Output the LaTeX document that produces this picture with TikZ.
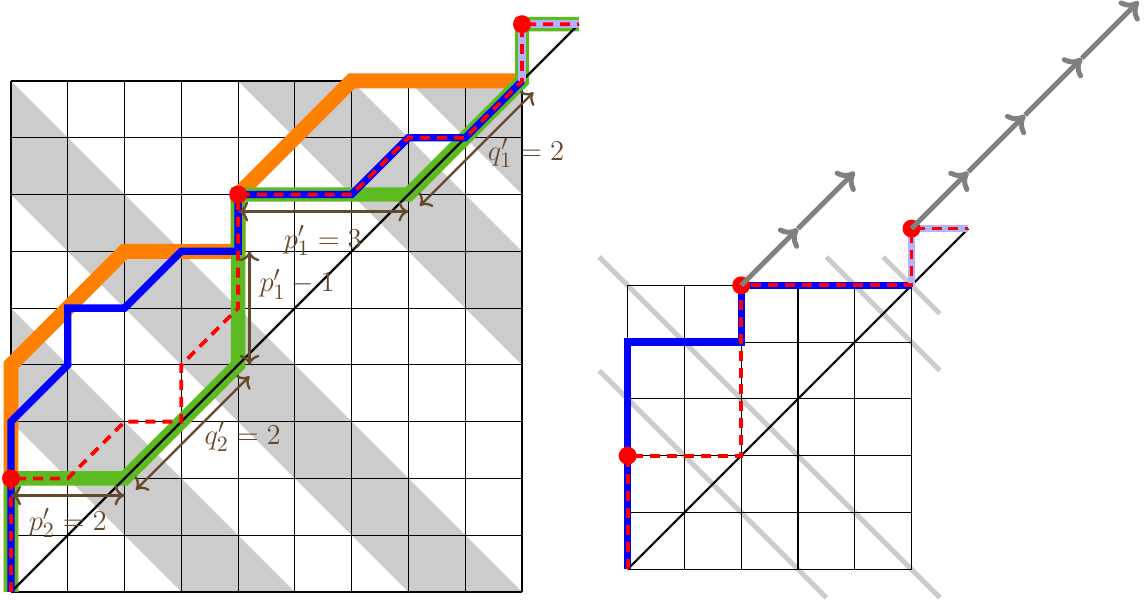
\documentclass[tikz,border=0pt]{standalone}
\usetikzlibrary{arrows.meta}
\definecolor{lpOrange}{HTML}{FF8000}
\definecolor{lpGreen}{HTML}{5CBB21}
\definecolor{lpBlue}{HTML}{0000FF}
\definecolor{lpLav}{HTML}{B2B2FF}
\definecolor{lpRed}{HTML}{FF0000}
\definecolor{lpBrown}{HTML}{66492C}
\definecolor{lpBand}{HTML}{CCCCCC}
\definecolor{lpRay}{HTML}{808080}
\newcommand{\LPType}{\fontsize{15}{18}\selectfont}
\tikzset{lp/base/.style={line cap=butt,line join=miter,
  every node/.style={font=\LPType,inner sep=0pt,text=lpBrown}},
  lp/grid/.style={draw=black,line width=.55pt},
  lp/diag/.style={draw=black,line width=1.1pt},
  lp/orange/.style={draw=lpOrange,line width=7.5pt},
  lp/green/.style={draw=lpGreen,line width=7.2pt},
  lp/blue/.style={draw=lpBlue,line width=3.7pt},
  lp/lav/.style={draw=lpLav,line width=3.7pt},
  lp/red/.style={draw=lpRed,line width=1.9pt,dash pattern=on 5pt off 3.5pt},
  lp/dot/.style={circle,fill=lpRed,minimum size=9pt},
  lp/dim/.style={{Computer Modern Rightarrow[length=5pt,width=10pt]}-{Computer Modern Rightarrow[length=5pt,width=10pt]},
    draw=lpBrown,line width=1.15pt},
  lp/ray/.style={-{Computer Modern Rightarrow[length=8pt,width=14pt]},draw=lpRay,line width=2.5pt},
  lp/cut/.style={draw=lpBand,line width=2.5pt}}

\begin{document}
\begin{tikzpicture}[lp/base]
  \useasboundingbox (-0.194,-0.158) rectangle (20.007,10.426);
  % left lattice: shaded diagonal bands under the grid
  \begin{scope}
    \clip (0,0) rectangle (9,9);
    \foreach \a/\b in {3/5,7/9,13/15,16/18}
      \fill[lpBand] (\a,0)--(\b,0)--(0,\b)--(0,\a)--cycle;
  \end{scope}
  \draw[lp/grid] (0,0) grid (9,9);
  \draw[lp/orange] (0,0)--(0,4)--(2,6)--(4,6)--(4,7)--(6,9)--(9,9);
  \draw[lp/green] (0,0)--(0,2)--(2,2)--(4,4)--(4,7)--(7,7)--(9,9)--(9,10)--(10,10);
  \draw[lp/diag] (0,0)--(10,10);
  \draw[lp/blue] (0,0)--(0,3)--(1,4)--(1,5)--(2,5)--(3,6)--(4,6)--(4,7)--(6,7)--(7,8)--(8,8)--(9,9);
  \draw[lp/lav] (9,9)--(9,10)--(10,10);
  \draw[lp/red] (0,0)--(0,2)--(1,2)--(2,3)--(3,3)--(3,4)--(4,5)--(4,7)--(6,7)--(7,8)--(8,8)--(9,9)--(9,10)--(10,10);
  \node[lp/dot] (dotL1) at (0,2) {};
  \node[lp/dot] (dotL2) at (4,7) {};
  \node[lp/dot] (dotL3) at (9,10) {};
  % measured gaps
  \coordinate (p1a) at (4,6.7);   \coordinate (p1b) at (7,6.7);
  \coordinate (r1a) at (4.2,6);   \coordinate (r1b) at (4.2,4);
  \coordinate (q1a) at (7.2,6.8); \coordinate (q1b) at (9.2,8.8);
  \coordinate (q2a) at (2.2,1.8); \coordinate (q2b) at (4.2,3.8);
  \coordinate (p2a) at (0,1.7);   \coordinate (p2b) at (2,1.7);
  \draw[lp/dim] (p1a)--(p1b);
  \draw[lp/dim] (r1a)--(r1b);
  \draw[lp/dim] (q1a)--(q1b);
  \draw[lp/dim] (q2a)--(q2b);
  \draw[lp/dim] (p2a)--(p2b);
  \node (labP1) at (5.49,6.19) {$p_1'=3$};
  \node (labR1) at (5.04,5.42) {$p_1'-1$};
  \node (labQ1) at (9.07,7.73) {$q_1'=2$};
  \node (labQ2) at (4.08,2.74) {$q_2'=2$};
  \node (labP2) at (1.0,1.22) {$p_2'=2$};
  % right lattice
  \begin{scope}[shift={(10.86,0.4)}]
    \foreach \sx/\sy/\ex/\ey in {-0.5/3.5/3.5/-0.5,-0.5/5.5/5.5/-0.5,3.5/5.5/5.5/3.5,4.5/5.5/5.5/4.5}
      \draw[lp/cut] (\sx,\sy)--(\ex,\ey);
    \draw[lp/grid] (0,0) grid (5,5);
    \draw[lp/diag] (0,0)--(6,6);
    \draw[lp/blue] (0,0)--(0,4)--(2,4)--(2,5)--(5,5);
    \draw[lp/lav] (5,5)--(5,6)--(6,6);
    \draw[lp/red] (0,0)--(0,2)--(2,2)--(2,5)--(5,5)--(5,6)--(6,6);
    \node[lp/dot] (dotR1) at (0,2) {};
    \node[lp/dot] (dotR2) at (2,5) {};
    \node[lp/dot] (dotR3) at (5,6) {};
    \foreach \x/\y in {2/5,3/6,5/6,6/7,7/8,8/9}
      \draw[lp/ray] (\x,\y)--++(1,1);
  \end{scope}
\end{tikzpicture}
\end{document}
